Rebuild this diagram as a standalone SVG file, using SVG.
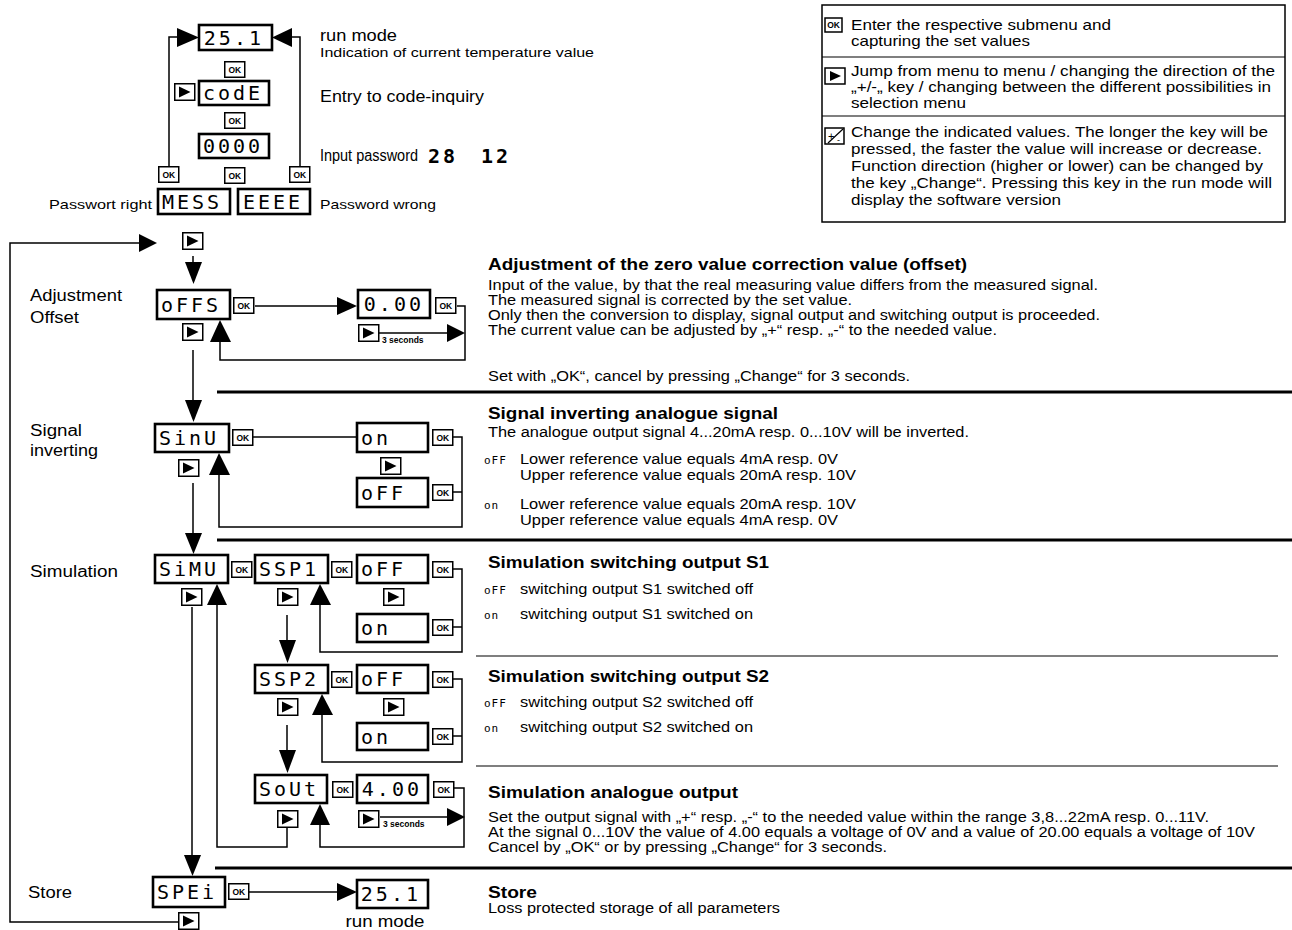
<svg xmlns="http://www.w3.org/2000/svg" xmlns:xlink="http://www.w3.org/1999/xlink" width="1292" height="930" viewBox="0 0 1292 930">
<defs>
<style>
.d{fill:#fff;stroke:#000;stroke-width:2.6}
.b{fill:#fff;stroke:#000;stroke-width:1.5}
.ok{font-family:"Liberation Sans",Arial,sans-serif;font-weight:bold;font-size:8.5px;text-anchor:middle}
.seg{font-family:"DejaVu Sans Mono",monospace;font-size:20px;letter-spacing:3px}
.sm{font-family:"DejaVu Sans Mono",monospace;font-size:11px;letter-spacing:1px}
.ln{fill:none;stroke:#000;stroke-width:1.5}
.sep{fill:none;stroke:#000;stroke-width:3}
.thin{fill:none;stroke:#000;stroke-width:1.2}
.t{font-family:"Liberation Sans",Arial,sans-serif;fill:#000}
.s13{font-size:13px}
.s14{font-size:14px}
.s15{font-size:15px}
.s16{font-size:16px}
.h{font-size:16px;font-weight:bold}
.sec{font-family:"Liberation Sans",Arial,sans-serif;font-weight:bold;font-size:8.5px}
</style>
<g id="okb"><rect class="b" x="0.75" y="0.75" width="20" height="15.5"/><text class="ok" x="10.75" y="12">OK</text></g>
<g id="key"><rect class="b" x="0.75" y="0.75" width="20" height="16.5"/><polygon points="5,3.5 5,14.5 16.5,9"/></g>
</defs>
<rect width="1292" height="930" fill="#fff"/>

<!-- connectors -->
<g id="connectors">
  <path class="ln" d="M169,166 V37 H178"/>
  <polygon points="177,28 199,37.5 177,47"/>
  <path class="ln" d="M300,166 V37 H292"/>
  <polygon points="292,28 272,37.5 292,47"/>
  <path class="ln" d="M178,922 H10 V243 H140"/>
  <polygon points="139,234 157,243 139,252"/>
  <path class="ln" d="M193,256 V263"/>
  <polygon points="185,262 202,262 193.5,284"/>
  <path class="ln" d="M255,306 H338"/>
  <polygon points="337,297 357,306 337,315"/>
  <path class="ln" d="M457,306 H465 V360 H220 V340"/>
  <polygon points="210,342 220,320 231,342"/>
  <path class="ln" d="M378,333 H448"/>
  <polygon points="447,324 465,333 447,342"/>
  <path class="ln" d="M193,350 V401"/>
  <polygon points="185,400 202,400 193.5,422"/>
  <path class="ln" d="M253,437 H357"/>
  <path class="ln" d="M453,437 H462 V527 H219 V473"/>
  <path class="ln" d="M453,492 H462"/>
  <polygon points="209,475 219,453 230,475"/>
  <path class="ln" d="M193,483 V534"/>
  <polygon points="185,533 202,533 193.5,554"/>
  <path class="ln" d="M452,569 H462 V652 H320 V603"/>
  <path class="ln" d="M452,627 H462"/>
  <polygon points="310,605 320,584 331,605"/>
  <path class="ln" d="M287,615 V641"/>
  <polygon points="279,640 296,640 287.5,663"/>
  <path class="ln" d="M452,679 H462 V762 H322 V713"/>
  <path class="ln" d="M452,736 H462"/>
  <polygon points="312,715 322,694 333,715"/>
  <path class="ln" d="M287,725 V751"/>
  <polygon points="279,750 296,750 287.5,773"/>
  <path class="ln" d="M454,788 H464 V847 H320 V823"/>
  <polygon points="310,825 320,804 330,825"/>
  <path class="ln" d="M380,817 H448"/>
  <polygon points="447,808 465,817 447,826"/>
  <path class="ln" d="M287,828 V847 H217 V603"/>
  <polygon points="207,605 217,584 227,605"/>
  <path class="ln" d="M192,607 V856"/>
  <polygon points="184,855 201,855 192.5,876"/>
  <path class="ln" d="M248,892 H338"/>
  <polygon points="337,883 357,892 337,901"/>
</g>

<!-- separators -->
<g id="separators">
  <line class="sep" x1="217" y1="392" x2="1292" y2="392"/>
  <line class="sep" x1="217" y1="540" x2="1292" y2="540"/>
  <line class="thin" x1="476" y1="656" x2="1278" y2="656"/>
  <line class="thin" x1="476" y1="766" x2="1278" y2="766"/>
  <line class="sep" x1="215" y1="868" x2="1292" y2="868"/>
</g>

<!-- top block -->
<g id="n-run"><rect class="d" x="199" y="25" width="73" height="25"/><text class="seg" x="264" y="45" text-anchor="end">25.1</text></g>
<g id="k1"><use xlink:href="#okb" x="224" y="61"/></g>
<g id="a1"><use xlink:href="#key" x="174" y="83"/></g>
<g id="n-code"><rect class="d" x="199" y="81" width="70" height="24"/><text class="seg" x="203" y="100">codE</text></g>
<g id="k2"><use xlink:href="#okb" x="224" y="112"/></g>
<g id="n-0000"><rect class="d" x="199" y="134" width="70" height="24"/><text class="seg" x="203" y="153">0000</text></g>
<g id="k3"><use xlink:href="#okb" x="158" y="166"/></g>
<g id="k4"><use xlink:href="#okb" x="224" y="167"/></g>
<g id="k5"><use xlink:href="#okb" x="289" y="166"/></g>
<g id="n-mess"><rect class="d" x="158" y="189" width="72" height="25"/><text class="seg" x="162" y="209">MESS</text></g>
<g id="n-eeee"><rect class="d" x="238" y="189" width="72" height="25"/><text class="seg" x="243" y="209">EEEE</text></g>
<g id="top-labels" class="t">
  <text class="s16" x="320" y="41" textLength="77" lengthAdjust="spacingAndGlyphs">run mode</text>
  <text class="s13" x="320" y="57" textLength="274" lengthAdjust="spacingAndGlyphs">Indication of current temperature value</text>
  <text class="s16" x="320" y="102" textLength="164" lengthAdjust="spacingAndGlyphs">Entry to code-inquiry</text>
  <text class="s16" x="320" y="161" textLength="98" lengthAdjust="spacingAndGlyphs">Input password</text>
  <text class="seg" x="428" y="163" font-weight="bold" font-size="22" letter-spacing="2">28</text>
  <text class="seg" x="481" y="163" font-weight="bold" font-size="22" letter-spacing="2">12</text>
  <text class="s13" x="152" y="209" text-anchor="end" textLength="103" lengthAdjust="spacingAndGlyphs">Passwort right</text>
  <text class="s13" x="320" y="209" textLength="116" lengthAdjust="spacingAndGlyphs">Password wrong</text>
</g>
<g id="a2"><use xlink:href="#key" x="182" y="232"/></g>

<!-- offset -->
<g id="n-offs"><rect class="d" x="157" y="290" width="73" height="29"/><text class="seg" x="161" y="312">oFFS</text></g>
<g id="k6"><use xlink:href="#okb" x="233" y="297"/></g>
<g id="n-000"><rect class="d" x="358" y="290" width="72" height="28"/><text class="seg" x="424" y="311" text-anchor="end">0.00</text></g>
<g id="k7"><use xlink:href="#okb" x="435" y="297"/></g>
<g id="a3"><use xlink:href="#key" x="182" y="323"/></g>
<g id="a4"><use xlink:href="#key" x="358" y="324"/><text class="sec" x="382" y="343">3 seconds</text></g>

<!-- signal inverting -->
<g id="n-sinu"><rect class="d" x="155" y="424" width="74" height="28"/><text class="seg" x="159" y="445">SinU</text></g>
<g id="k8"><use xlink:href="#okb" x="232" y="429"/></g>
<g id="n-on1"><rect class="d" x="357" y="423" width="71" height="29"/><text class="seg" x="361" y="445">on</text></g>
<g id="k9"><use xlink:href="#okb" x="432" y="429"/></g>
<g id="a5"><use xlink:href="#key" x="178" y="459"/></g>
<g id="a6"><use xlink:href="#key" x="380" y="457"/></g>
<g id="n-off1"><rect class="d" x="357" y="478" width="71" height="29"/><text class="seg" x="361" y="500">oFF</text></g>
<g id="k10"><use xlink:href="#okb" x="432" y="484"/></g>

<!-- simulation -->
<g id="n-simu"><rect class="d" x="155" y="555" width="73" height="28"/><text class="seg" x="159" y="576">SiMU</text></g>
<g id="k11"><use xlink:href="#okb" x="231" y="561"/></g>
<g id="n-ssp1"><rect class="d" x="255" y="555" width="73" height="28"/><text class="seg" x="259" y="576">SSP1</text></g>
<g id="k12"><use xlink:href="#okb" x="331" y="561"/></g>
<g id="n-off2"><rect class="d" x="357" y="555" width="71" height="28"/><text class="seg" x="361" y="576">oFF</text></g>
<g id="k13"><use xlink:href="#okb" x="432" y="561"/></g>
<g id="a7"><use xlink:href="#key" x="181" y="588"/></g>
<g id="a8"><use xlink:href="#key" x="277" y="588"/></g>
<g id="a9"><use xlink:href="#key" x="383" y="588"/></g>
<g id="n-on2"><rect class="d" x="357" y="614" width="71" height="28"/><text class="seg" x="361" y="635">on</text></g>
<g id="k14"><use xlink:href="#okb" x="432" y="619"/></g>

<g id="n-ssp2"><rect class="d" x="255" y="665" width="73" height="28"/><text class="seg" x="259" y="686">SSP2</text></g>
<g id="k15"><use xlink:href="#okb" x="331" y="671"/></g>
<g id="n-off3"><rect class="d" x="357" y="665" width="71" height="28"/><text class="seg" x="361" y="686">oFF</text></g>
<g id="k16"><use xlink:href="#okb" x="432" y="671"/></g>
<g id="a10"><use xlink:href="#key" x="277" y="698"/></g>
<g id="a11"><use xlink:href="#key" x="383" y="698"/></g>
<g id="n-on3"><rect class="d" x="357" y="723" width="71" height="27"/><text class="seg" x="361" y="744">on</text></g>
<g id="k17"><use xlink:href="#okb" x="432" y="728"/></g>

<g id="n-sout"><rect class="d" x="255" y="775" width="72" height="28"/><text class="seg" x="259" y="796">SoUt</text></g>
<g id="k18"><use xlink:href="#okb" x="332" y="781"/></g>
<g id="n-400"><rect class="d" x="357" y="775" width="71" height="28"/><text class="seg" x="422" y="796" text-anchor="end">4.00</text></g>
<g id="k19"><use xlink:href="#okb" x="433" y="781"/></g>
<g id="a12"><use xlink:href="#key" x="277" y="810"/></g>
<g id="a13"><use xlink:href="#key" x="358" y="810"/><text class="sec" x="383" y="827">3 seconds</text></g>

<!-- store -->
<g id="n-spei"><rect class="d" x="153" y="877" width="72" height="30"/><text class="seg" x="157" y="899">SPEi</text></g>
<g id="k20"><use xlink:href="#okb" x="228" y="883"/></g>
<g id="n-run2"><rect class="d" x="357" y="880" width="71" height="28"/><text class="seg" x="421" y="901" text-anchor="end">25.1</text><text class="t s16" x="385" y="927" text-anchor="middle" textLength="79" lengthAdjust="spacingAndGlyphs">run mode</text></g>
<g id="a14"><use xlink:href="#key" x="178" y="912"/></g>

<!-- left labels -->
<g id="left-labels" class="t s16">
  <text x="30" y="301" textLength="92" lengthAdjust="spacingAndGlyphs">Adjustment</text>
  <text x="30" y="323" textLength="49" lengthAdjust="spacingAndGlyphs">Offset</text>
  <text x="30" y="436" textLength="52" lengthAdjust="spacingAndGlyphs">Signal</text>
  <text x="30" y="456" textLength="68" lengthAdjust="spacingAndGlyphs">inverting</text>
  <text x="30" y="577" textLength="88" lengthAdjust="spacingAndGlyphs">Simulation</text>
  <text x="28" y="898" textLength="44" lengthAdjust="spacingAndGlyphs">Store</text>
</g>

<!-- descriptions -->
<g id="desc" class="t s14">
  <text class="h" x="488" y="270" textLength="479" lengthAdjust="spacingAndGlyphs">Adjustment of the zero value correction value (offset)</text>
  <text x="488" y="290" textLength="610" lengthAdjust="spacingAndGlyphs">Input of the value, by that the real measuring value differs from the measured signal.</text>
  <text x="488" y="305" textLength="364" lengthAdjust="spacingAndGlyphs">The measured signal is corrected by the set value.</text>
  <text x="488" y="320" textLength="612" lengthAdjust="spacingAndGlyphs">Only then the conversion to display, signal output and switching output is proceeded.</text>
  <text x="488" y="335" textLength="509" lengthAdjust="spacingAndGlyphs">The current value can be adjusted by  „+“ resp. „-“ to the needed value.</text>
  <text x="488" y="381" textLength="422" lengthAdjust="spacingAndGlyphs">Set with  „OK“, cancel by pressing „Change“ for 3 seconds.</text>

  <text class="h" x="488" y="419" textLength="290" lengthAdjust="spacingAndGlyphs">Signal inverting analogue signal</text>
  <text x="488" y="437" textLength="481" lengthAdjust="spacingAndGlyphs">The analogue output signal 4...20mA resp. 0...10V will be inverted.</text>
  <text class="sm" x="484" y="464">oFF</text>
  <text x="520" y="464" textLength="318" lengthAdjust="spacingAndGlyphs">Lower reference value equals 4mA resp. 0V</text>
  <text x="520" y="480" textLength="336" lengthAdjust="spacingAndGlyphs">Upper reference value equals 20mA resp. 10V</text>
  <text class="sm" x="484" y="509">on</text>
  <text x="520" y="509" textLength="336" lengthAdjust="spacingAndGlyphs">Lower reference value equals 20mA resp. 10V</text>
  <text x="520" y="525" textLength="318" lengthAdjust="spacingAndGlyphs">Upper reference value equals 4mA resp. 0V</text>

  <text class="h" x="488" y="568" textLength="281" lengthAdjust="spacingAndGlyphs">Simulation switching output S1</text>
  <text class="sm" x="484" y="594">oFF</text>
  <text x="520" y="594" textLength="233" lengthAdjust="spacingAndGlyphs">switching output S1 switched off</text>
  <text class="sm" x="484" y="619">on</text>
  <text x="520" y="619" textLength="233" lengthAdjust="spacingAndGlyphs">switching output S1 switched on</text>

  <text class="h" x="488" y="682" textLength="281" lengthAdjust="spacingAndGlyphs">Simulation switching output S2</text>
  <text class="sm" x="484" y="707">oFF</text>
  <text x="520" y="707" textLength="233" lengthAdjust="spacingAndGlyphs">switching output S2 switched off</text>
  <text class="sm" x="484" y="732">on</text>
  <text x="520" y="732" textLength="233" lengthAdjust="spacingAndGlyphs">switching output S2 switched on</text>

  <text class="h" x="488" y="798" textLength="250" lengthAdjust="spacingAndGlyphs">Simulation analogue output</text>
  <text x="488" y="822" textLength="721" lengthAdjust="spacingAndGlyphs">Set the output signal with „+“ resp. „-“ to the needed value within the range 3,8...22mA resp. 0...11V.</text>
  <text x="488" y="837" textLength="767" lengthAdjust="spacingAndGlyphs">At the signal 0...10V the value of 4.00 equals a voltage of  0V and a value of 20.00 equals a voltage of 10V</text>
  <text x="488" y="852" textLength="399" lengthAdjust="spacingAndGlyphs">Cancel by „OK“ or by pressing „Change“ for 3 seconds.</text>

  <text class="h" x="488" y="898" textLength="49" lengthAdjust="spacingAndGlyphs">Store</text>
  <text x="488" y="913" textLength="292" lengthAdjust="spacingAndGlyphs">Loss protected storage of all parameters</text>
</g>

<!-- legend -->
<g id="legend">
  <rect x="822" y="5" width="463" height="217" fill="#fff" stroke="#000" stroke-width="1.5"/>
  <line class="thin" x1="822" y1="57" x2="1285" y2="57"/>
  <line class="thin" x1="822" y1="116" x2="1285" y2="116"/>
  <g id="leg-ok"><rect class="b" x="825" y="18" width="17" height="14"/><text class="ok" x="833.5" y="28" font-size="7.5">OK</text></g>
  <g id="leg-key"><rect class="b" x="825" y="68" width="20" height="16"/><polygon points="830,71 830,81 841,76"/></g>
  <g id="leg-pm"><rect class="b" x="825" y="128" width="19" height="16"/><line x1="828" y1="143" x2="843" y2="129" stroke="#000" stroke-width="1.2"/><text class="t" x="828" y="140" font-size="11">+</text><text class="t" x="837" y="143" font-size="9">-</text></g>
  <g class="t s15">
    <text x="851" y="30" textLength="260" lengthAdjust="spacingAndGlyphs">Enter the respective  submenu and</text>
    <text x="851" y="46" textLength="179" lengthAdjust="spacingAndGlyphs">capturing the set values</text>
    <text x="851" y="76" textLength="424" lengthAdjust="spacingAndGlyphs">Jump from menu to menu / changing the direction of the</text>
    <text x="851" y="92" textLength="420" lengthAdjust="spacingAndGlyphs">„+/-„ key / changing between the different possibilities in</text>
    <text x="851" y="108" textLength="115" lengthAdjust="spacingAndGlyphs">selection menu</text>
    <text x="851" y="137" textLength="417" lengthAdjust="spacingAndGlyphs">Change the indicated values. The longer the key will be</text>
    <text x="851" y="154" textLength="411" lengthAdjust="spacingAndGlyphs">pressed, the faster the value will increase or decrease.</text>
    <text x="851" y="171" textLength="412" lengthAdjust="spacingAndGlyphs">Function direction (higher or lower) can be changed by</text>
    <text x="851" y="188" textLength="421" lengthAdjust="spacingAndGlyphs">the key „Change“. Pressing this key in the run mode will</text>
    <text x="851" y="205" textLength="210" lengthAdjust="spacingAndGlyphs">display the software version</text>
  </g>
</g>
</svg>
